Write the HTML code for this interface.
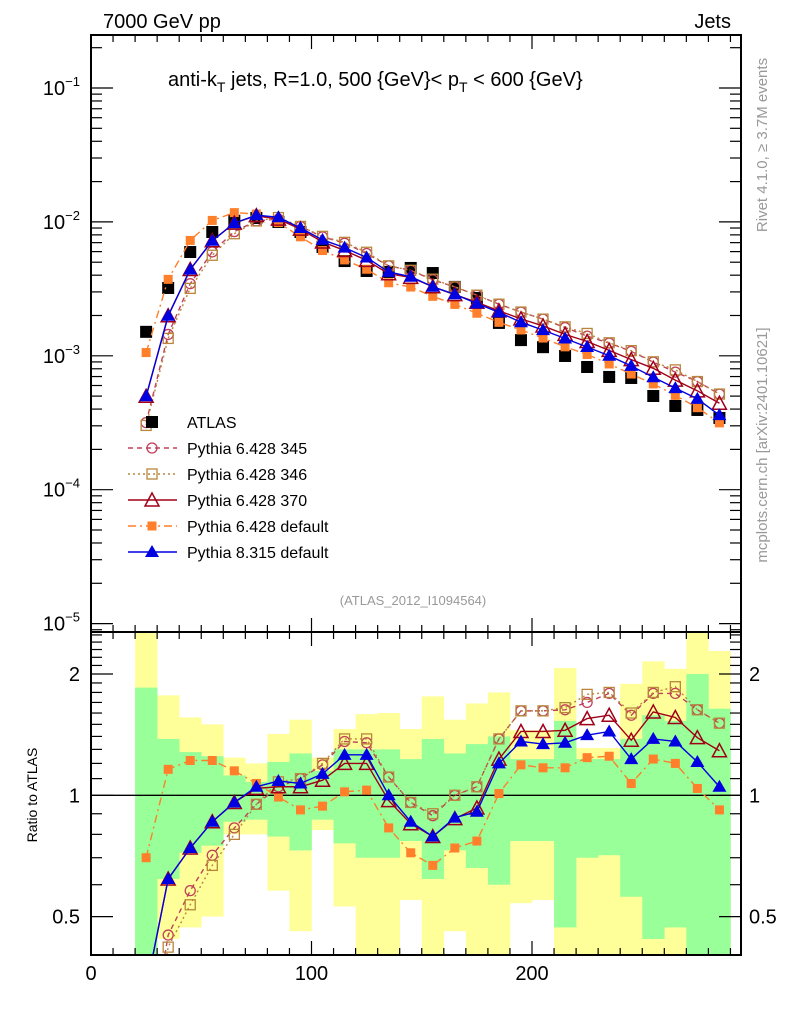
<!DOCTYPE html>
<html><head><meta charset="utf-8"><style>
html,body{margin:0;padding:0;background:#fff;width:786px;height:1024px;overflow:hidden;}
svg{display:block;font-family:"Liberation Sans",sans-serif;}
</style></head><body>
<svg id="chart" width="786" height="1024" viewBox="0 0 786 1024" xmlns="http://www.w3.org/2000/svg">
<defs>
<clipPath id="cm"><rect x="91" y="35" width="650" height="597"/></clipPath>
<clipPath id="cr"><rect x="91" y="632" width="650" height="323"/></clipPath>
</defs>
<text x="103" y="28" font-size="20">7000 GeV pp</text>
<text x="731" y="28" font-size="20" text-anchor="end">Jets</text>
<text x="168" y="86" font-size="20">anti-k<tspan font-size="14" dy="6">T</tspan><tspan dy="-6"> jets, R=1.0, 500 {GeV}&lt; p</tspan><tspan font-size="14" dy="6">T</tspan><tspan dy="-6"> &lt; 600 {GeV}</tspan></text>
<text x="413" y="605" font-size="13" fill="#999" text-anchor="middle">(ATLAS_2012_I1094564)</text>
<text transform="translate(767,145) rotate(-90)" font-size="15" fill="#999" text-anchor="middle">Rivet 4.1.0, ≥ 3.7M events</text>
<text transform="translate(767,445) rotate(-90)" font-size="15" fill="#999" text-anchor="middle">mcplots.cern.ch [arXiv:2401.10621]</text>
<text transform="translate(37,795) rotate(-90)" font-size="14" text-anchor="middle">Ratio to ATLAS</text>
<g id="bands" clip-path="url(#cr)"></g>
<g id="ratio" clip-path="url(#cr)"></g>
<g id="main" clip-path="url(#cm)"></g>
<g id="axes"></g>
<g id="legend"></g>
</svg>
<script>
const centers=[25,35,45,55,65,75,85,95,105,115,125,135,145,155,165,175,185,195,205,215,225,235,245,255,265,275,285];
const atlas=[1.51e-3,3.21e-3,5.96e-3,8.41e-3,1.02e-2,1.07e-2,9.98e-3,8.41e-3,6.5e-3,5.1e-3,4.3e-3,4.23e-3,4.53e-3,4.15e-3,3.27e-3,2.7e-3,1.76e-3,1.31e-3,1.16e-3,9.97e-4,8.25e-4,6.95e-4,6.83e-4,5.01e-4,4.22e-4,3.94e-4,3.43e-4];
const r345=[0.21,0.45,0.58,0.71,0.83,0.95,1.05,1.1,1.19,1.36,1.35,1.11,0.96,0.89,1.0,1.05,1.38,1.62,1.62,1.63,1.70,1.79,1.58,1.79,1.79,1.63,1.51];
const r346=[0.2,0.42,0.535,0.67,0.80,0.95,1.08,1.1,1.2,1.38,1.38,1.11,0.96,0.9,1.0,1.05,1.38,1.62,1.62,1.65,1.78,1.80,1.6,1.8,1.86,1.63,1.51];
const r370=[0.33,0.62,0.74,0.86,0.96,1.04,1.05,1.05,1.09,1.2,1.2,0.97,0.85,0.79,0.875,0.93,1.23,1.44,1.44,1.45,1.55,1.58,1.37,1.61,1.56,1.39,1.29];
const r6def=[0.70,1.16,1.22,1.22,1.15,1.07,0.99,0.92,0.94,1.02,1.03,0.83,0.72,0.67,0.74,0.77,1.01,1.19,1.17,1.17,1.24,1.25,1.07,1.23,1.2,1.04,0.92];
const r8def=[0.33,0.62,0.74,0.86,0.96,1.05,1.085,1.07,1.13,1.26,1.26,1.0,0.86,0.79,0.88,0.91,1.2,1.36,1.34,1.35,1.41,1.44,1.23,1.38,1.36,1.21,1.05];
const binLo=[20,30,40,50,60,70,80,90,100,110,120,130,140,150,160,170,180,190,200,210,220,230,240,250,260,270,280];
const yelHi=[3,1.77,1.56,1.5,1.24,1.2,1.42,1.54,1.24,1.46,1.59,1.60,1.46,1.76,1.54,1.69,1.80,1.45,1.45,2.07,1.31,1.31,1.89,2.15,2.06,3,2.28];
const grnHi=[1.85,1.38,1.28,1.25,1.12,1.08,1.21,1.27,1.15,1.30,1.30,1.30,1.23,1.38,1.27,1.34,1.40,1.23,1.23,1.53,1.23,1.23,1.38,1.58,1.53,2.0,1.64];
const grnLo=[0.3,0.62,0.72,0.75,0.86,0.87,0.79,0.73,0.87,0.76,0.70,0.70,0.77,0.62,0.73,0.66,0.60,0.77,0.77,0.47,0.70,0.71,0.56,0.44,0.47,0.3,0.3];
const yelLo=[0.3,0.44,0.47,0.50,0.80,0.80,0.58,0.46,0.82,0.53,0.3,0.3,0.55,0.3,0.46,0.3,0.3,0.54,0.55,0.3,0.3,0.40,0.3,0.3,0.3,0.3,0.3];
const xTickLabels=[0,100,200];
const mainTickExp=[-1,-2,-3,-4,-5];
const ratioTickLabels=[0.5,1,2];

const NS="http://www.w3.org/2000/svg";
const X=u=>91+u*2.205;
const YM=v=>88+(-1-Math.log10(v))*133.9;
const YR=r=>795.3-Math.log10(r)*403;
const RTOP=632,RBOT=955,MTOP=35,MBOT=632;
const clampY=(y,t,b)=>Math.max(t,Math.min(b,y));
function mk(tag,attrs,parent){const e=document.createElementNS(NS,tag);for(const k in attrs)e.setAttribute(k,attrs[k]);parent.appendChild(e);return e;}
const bands=document.getElementById('bands'),ratio=document.getElementById('ratio'),main=document.getElementById('main'),axes=document.getElementById('axes'),legend=document.getElementById('legend');

// clip polyline vertically to [top,bot]
function clipPts(pts,top,bot){
  const out=[];
  for(let i=0;i<pts.length-1;i++){
    let [x1,y1]=pts[i],[x2,y2]=pts[i+1];
    if((y1>bot&&y2>bot)||(y1<top&&y2<top))continue;
    const cut=(xa,ya,xb,yb,yl)=>[xa+(xb-xa)*(yl-ya)/(yb-ya),yl];
    if(y1>bot)[x1,y1]=cut(x1,y1,x2,y2,bot);
    if(y1<top)[x1,y1]=cut(x1,y1,x2,y2,top);
    if(y2>bot)[x2,y2]=cut(x1,y1,x2,y2,bot);
    if(y2<top)[x2,y2]=cut(x1,y1,x2,y2,top);
    out.push([x1,y1],[x2,y2]);
  }
  return out.map(p=>p[0].toFixed(2)+','+p[1].toFixed(2)).join(' ');
}

binLo.forEach((b,i)=>{
  const x1=X(b),w=X(b+10)-x1+0.3;
  const t=clampY(YR(yelHi[i]),RTOP,RBOT),bt=clampY(YR(yelLo[i]),RTOP,RBOT);
  let e=mk('rect',{x:x1,y:t,width:w,height:bt-t,fill:'#ffff99'},bands);
  
  
});
binLo.forEach((b,i)=>{
  const x1=X(b),w=X(b+10)-x1+0.3;
  const t=clampY(YR(grnHi[i]),RTOP,RBOT),bt=clampY(YR(grnLo[i]),RTOP,RBOT);
  let e=mk('rect',{x:x1,y:t,width:w,height:bt-t,fill:'#99ff99'},bands);
  
  
});
let one=mk('line',{x1:91,x2:741,y1:YR(1),y2:YR(1),stroke:'#000','stroke-width':1.3},ratio);



const series=[
 {name:'pythia-6428-345',r:r345,color:'#c0405a',dash:'5,4',m:'circle'},
 {name:'pythia-6428-346',r:r346,color:'#b8863b',dash:'2,3',m:'osquare'},
 {name:'pythia-6428-default',r:r6def,color:'#ff7f2a',dash:'8,4,2,4',m:'fsquare'},
 {name:'pythia-6428-370',r:r370,color:'#a00018',dash:'',m:'otri'},
 {name:'pythia-8315-default',r:r8def,color:'#0000e0',dash:'',m:'ftri'}
];
function marker(type,x,y,color,parent,nm){
  let e;
  if(type==='circle') e=mk('circle',{cx:x,cy:y,r:5,fill:'none',stroke:color,'stroke-width':1.3},parent);
  else if(type==='osquare') e=mk('rect',{x:x-5,y:y-5,width:10,height:10,fill:'none',stroke:color,'stroke-width':1.3},parent);
  else if(type==='fsquare') e=mk('rect',{x:x-4.5,y:y-4.5,width:9,height:9,fill:color},parent);
  else if(type==='asquare') e=mk('rect',{x:x-6,y:y-6,width:12,height:12,fill:'#000'},parent);
  else if(type==='otri') e=mk('polygon',{points:`${x},${y-7} ${x-7},${y+6} ${x+7},${y+6}`,fill:'none',stroke:color,'stroke-width':1.5},parent);
  else e=mk('polygon',{points:`${x},${y-7} ${x-7},${y+5} ${x+7},${y+5}`,fill:color},parent);
  
  
  return e;
}
atlas.forEach((v,i)=>{marker('asquare',X(centers[i]),YM(v),'#000',main,'atlas-point');});
series.forEach(s=>{
  const mainVals=s.r.map((r,i)=>r*atlas[i]);
  let pl=mk('polyline',{points:clipPts(centers.map((c,i)=>[X(c),YM(mainVals[i])]),MTOP,MBOT),fill:'none',stroke:s.color,'stroke-width':1.4,'stroke-dasharray':s.dash},main);
  
  
  mainVals.forEach((v,i)=>{const y=YM(v);if(y<MTOP||y>MBOT)return;marker(s.m,X(centers[i]),y,s.color,main,s.name+'-point');});
  let rl=mk('polyline',{points:clipPts(centers.map((c,i)=>[X(c),YR(s.r[i])]),RTOP,RBOT),fill:'none',stroke:s.color,'stroke-width':1.4,'stroke-dasharray':s.dash},ratio);
  
  
  s.r.forEach((r,i)=>{const y=YR(r);if(y<RTOP+2||y>RBOT-2)return;marker(s.m,X(centers[i]),y,s.color,ratio,s.name+'-ratio-point');});
});

let f1=mk('rect',{x:91,y:35,width:650,height:597,fill:'none',stroke:'#000','stroke-width':2},axes);


let f2=mk('rect',{x:91,y:632,width:650,height:323,fill:'none',stroke:'#000','stroke-width':2},axes);


function tick(x1,y1,x2,y2){let t=mk('line',{x1,y1,x2,y2,stroke:'#000','stroke-width':1.2},axes);
  
  }
for(let u=0;u<=290;u+=10){
  const x=X(u),L=(u%100===0)?14:7;
  [35,632].forEach(y=>tick(x,y,x,y+L));
  [632,955].forEach(y=>tick(x,y,x,y-L));
}
xTickLabels.forEach(u=>{let t=mk('text',{x:X(u),y:980,'font-size':20,'text-anchor':'middle'},axes);t.textContent=u;
  
  });
for(let e=-6;e<=0;e++){for(let m=1;m<10;m++){const v=m*Math.pow(10,e),y=YM(v);if(y<35||y>632)continue;const L=m===1?22:11;tick(91,y,91+L,y);tick(741,y,741-L,y);}}
mainTickExp.forEach(e=>{let t=mk('text',{x:80,y:YM(Math.pow(10,e))+7,'font-size':20,'text-anchor':'end'},axes);
  t.innerHTML='10<tspan font-size="13" dy="-9">−'+(-e)+'</tspan>';
  
  });
for(let r=0.4;r<=2.55;r+=0.1){const rr=Math.round(r*10)/10,y=YR(rr);if(y<632||y>955)continue;const L=(rr===0.5||rr===1||rr===2)?22:11;tick(91,y,91+L,y);tick(741,y,741-L,y);}
ratioTickLabels.forEach(r=>{
  let t=mk('text',{x:80,y:YR(r)+7,'font-size':20,'text-anchor':'end'},axes);t.textContent=r;
  
  
  let t2=mk('text',{x:749,y:YR(r)+7,'font-size':20},axes);t2.textContent=r;
  
  
});
const leg=[{label:'ATLAS',m:'asquare',color:'#000',dash:null},
 {label:'Pythia 6.428 345',m:'circle',color:'#c0405a',dash:'5,4'},
 {label:'Pythia 6.428 346',m:'osquare',color:'#b8863b',dash:'2,3'},
 {label:'Pythia 6.428 370',m:'otri',color:'#a00018',dash:''},
 {label:'Pythia 6.428 default',m:'fsquare',color:'#ff7f2a',dash:'8,4,2,4'},
 {label:'Pythia 8.315 default',m:'ftri',color:'#0000e0',dash:''}];
const legY=[422,448,474,500,526,552];
leg.forEach((l,i)=>{
  const y=legY[i];
  if(l.dash!==null){let ln=mk('line',{x1:128,x2:177,y1:y,y2:y,stroke:l.color,'stroke-width':1.4,'stroke-dasharray':l.dash},legend);
    
    }
  marker(l.m,152,y,l.color,legend,'legend-marker');
  let t=mk('text',{x:187,y:y+6,'font-size':16},legend);t.textContent=l.label;
  
  
});
</script>
</body></html>
